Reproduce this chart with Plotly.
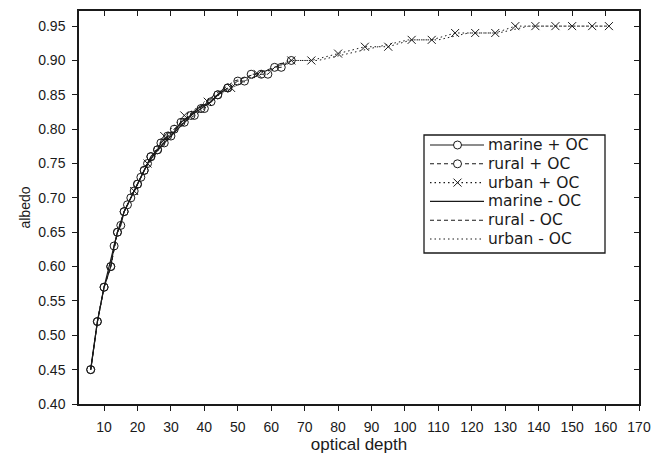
import plotly.graph_objects as go

# Cloud albedo versus optical depth for three aerosol types, with and without OC

marine_oc_tau = [6, 8, 10, 12, 13, 14, 15, 16, 17, 19, 20, 21, 22, 23, 24, 26, 27, 29, 30, 33, 36, 39, 42, 44, 47]
marine_oc_alb = [0.45, 0.52, 0.57, 0.60, 0.63, 0.65, 0.66, 0.68, 0.69, 0.71, 0.72, 0.73, 0.74, 0.75, 0.76,
                 0.77, 0.78, 0.79, 0.79, 0.81, 0.82, 0.83, 0.84, 0.85, 0.86]

rural_oc_tau = [6, 8, 10, 12, 14, 16, 18, 20, 22, 24, 26, 28, 31, 34, 37, 40, 44, 47, 50, 52, 54, 57, 59, 61, 63, 66]
rural_oc_alb = [0.45, 0.52, 0.57, 0.60, 0.65, 0.68, 0.70, 0.72, 0.74, 0.76, 0.77, 0.78, 0.80, 0.81, 0.82,
                0.83, 0.85, 0.86, 0.87, 0.87, 0.88, 0.88, 0.88, 0.89, 0.89, 0.90]

urban_oc_tau = [19, 23, 28, 34, 41, 48, 56, 66, 72, 80, 88, 95, 102, 108, 115, 121, 127, 133, 139, 145, 150, 156, 161]
urban_oc_alb = [0.71, 0.75, 0.79, 0.82, 0.84, 0.86, 0.88, 0.90, 0.90, 0.91, 0.92, 0.92, 0.93, 0.93, 0.94,
                0.94, 0.94, 0.95, 0.95, 0.95, 0.95, 0.95, 0.95]

marine_tau = [6, 8, 10, 12, 14, 16, 18, 20, 23, 26, 30, 34, 38, 42, 46]
marine_alb = [0.45, 0.52, 0.57, 0.61, 0.65, 0.68, 0.70, 0.72, 0.75, 0.77, 0.79, 0.81, 0.83, 0.84, 0.86]

rural_tau = [6, 8, 10, 12, 14, 16, 19, 22, 25, 29, 33, 38, 43, 49, 55, 61, 65]
rural_alb = [0.45, 0.52, 0.57, 0.60, 0.65, 0.68, 0.71, 0.74, 0.76, 0.79, 0.81, 0.83, 0.85, 0.87, 0.88, 0.89, 0.90]

urban_tau = [18, 22, 27, 33, 40, 48, 57, 66, 74, 83, 92, 101, 110, 119, 128, 137, 146, 155, 161]
urban_alb = [0.70, 0.74, 0.78, 0.81, 0.84, 0.86, 0.88, 0.90, 0.90, 0.91, 0.92, 0.93, 0.93, 0.94, 0.94,
             0.95, 0.95, 0.95, 0.95]

series_names = ["marine + OC", "rural + OC", "urban + OC", "marine - OC", "rural - OC", "urban - OC"]

x_ticks = list(range(10, 171, 10))
y_ticks = [0.40, 0.45, 0.50, 0.55, 0.60, 0.65, 0.70, 0.75, 0.80, 0.85, 0.90, 0.95]

FONT = "Liberation Sans, Arial, sans-serif"
KEY_FONT = "DejaVu Sans, sans-serif"
INK = "#1a1a1a"
SOLID, DASHED, DOTTED = "solid", "4px,3px", "1.5px,3px"

W, H = 653, 454
M_L, M_R, M_T, M_B = 79, 14, 11, 50
PW, PH = W - M_L - M_R, H - M_T - M_B

styles = [
    (SOLID, "circle"), (DASHED, "circle"), (DOTTED, "x"),
    (SOLID, None), (DASHED, None), (DOTTED, None),
]

fig = go.Figure()

fig.add_trace(go.Scatter(
    x=marine_oc_tau, y=marine_oc_alb, name=series_names[0], mode="lines+markers",
    line=dict(color=INK, width=1.2, dash=SOLID),
    marker=dict(symbol="circle-open", size=8, color=INK, line=dict(width=1))))
fig.add_trace(go.Scatter(
    x=rural_oc_tau, y=rural_oc_alb, name=series_names[1], mode="lines+markers",
    line=dict(color=INK, width=1, dash=DASHED),
    marker=dict(symbol="circle-open", size=8, color=INK, line=dict(width=1))))
fig.add_trace(go.Scatter(
    x=urban_oc_tau, y=urban_oc_alb, name=series_names[2], mode="lines+markers",
    line=dict(color=INK, width=1, dash=DOTTED),
    marker=dict(symbol="x-thin-open", size=8, color=INK, line=dict(width=1, color=INK))))
fig.add_trace(go.Scatter(
    x=marine_tau, y=marine_alb, name=series_names[3], mode="lines",
    line=dict(color=INK, width=1.2, dash=SOLID)))
fig.add_trace(go.Scatter(
    x=rural_tau, y=rural_alb, name=series_names[4], mode="lines",
    line=dict(color=INK, width=1, dash=DASHED)))
# drawn on the overlay axes so the top/right frame gets its own inward ticks
fig.add_trace(go.Scatter(
    x=urban_tau, y=urban_alb, name=series_names[5], mode="lines",
    line=dict(color=INK, width=1, dash=DOTTED), xaxis="x2", yaxis="y2"))


def px_x(px):
    return (px - M_L) / PW


def px_y(py):
    return (H - M_B - py) / PH


# boxed key in the upper right, Origin style: sample line with a marker, then the label
shapes = [dict(type="rect", xref="paper", yref="paper",
               x0=px_x(424), x1=px_x(605), y0=px_y(253), y1=px_y(135),
               line=dict(color=INK, width=1.3), fillcolor="white", layer="above")]
annotations = []
row0, row_gap = 145, 18.8
for i, (name, (dash, sym)) in enumerate(zip(series_names, styles)):
    cy = row0 + i * row_gap
    shapes.append(dict(type="line", xref="paper", yref="paper",
                       x0=px_x(430), x1=px_x(484), y0=px_y(cy), y1=px_y(cy),
                       line=dict(color=INK, width=1.1, dash=dash)))
    if sym == "circle":
        shapes.append(dict(type="circle", xref="paper", yref="paper",
                           x0=px_x(453.5), x1=px_x(461.5), y0=px_y(cy + 4), y1=px_y(cy - 4),
                           line=dict(color=INK, width=1), fillcolor="white"))
    elif sym == "x":
        for d in (-1, 1):
            shapes.append(dict(type="line", xref="paper", yref="paper",
                               x0=px_x(453.5), x1=px_x(461.5),
                               y0=px_y(cy - 4 * d), y1=px_y(cy + 4 * d),
                               line=dict(color=INK, width=1)))
    annotations.append(dict(text=name, xref="paper", yref="paper",
                            x=px_x(487), y=px_y(cy), xanchor="left", yanchor="middle",
                            showarrow=False, borderpad=0,
                            font=dict(size=15.5, family=KEY_FONT, color=INK)))

x_range = [2.5, 170]
y_range = [0.40, 0.972]

fig.update_layout(
    width=W, height=H,
    margin=dict(l=M_L, r=M_R, t=M_T, b=M_B),
    paper_bgcolor="white", plot_bgcolor="white",
    font=dict(family=FONT, color=INK, size=14),
    showlegend=False,
    shapes=shapes, annotations=annotations,
    xaxis=dict(
        range=x_range, tickvals=x_ticks, ticks="outside", ticklen=5, tickwidth=1.2,
        tickcolor=INK, showline=True, linecolor=INK, linewidth=1.5, showgrid=False,
        zeroline=False, tickfont=dict(size=14), ticklabelstandoff=4, automargin=False,
        title=dict(text="optical depth", font=dict(size=17), standoff=4)),
    yaxis=dict(
        range=y_range, tickvals=y_ticks, tickformat=".2f", ticks="outside", ticklen=5,
        tickwidth=1.2, tickcolor=INK, showline=True, linecolor=INK, linewidth=1.5,
        showgrid=False, zeroline=False, tickfont=dict(size=14), ticklabelstandoff=4,
        automargin=False,
        title=dict(text="albedo", font=dict(size=14), standoff=4)),
    xaxis2=dict(
        range=x_range, tickvals=x_ticks, ticks="inside", ticklen=5, tickwidth=1.2,
        tickcolor=INK, showline=True, linecolor=INK, linewidth=1.5, showgrid=False,
        zeroline=False, showticklabels=False, overlaying="x", side="top", anchor="y2",
        automargin=False),
    yaxis2=dict(
        range=y_range, tickvals=y_ticks, ticks="inside", ticklen=5, tickwidth=1.2,
        tickcolor=INK, showline=True, linecolor=INK, linewidth=1.5, showgrid=False,
        zeroline=False, showticklabels=False, overlaying="y", side="right", anchor="x2",
        automargin=False),
)

fig.write_html("out.html")
